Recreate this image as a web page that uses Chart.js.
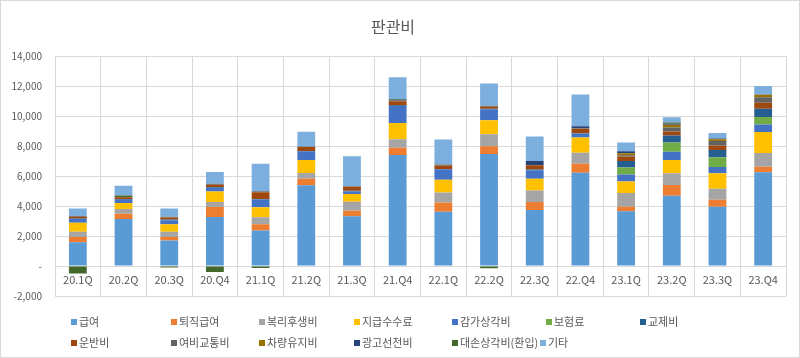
<!DOCTYPE html>
<html>
<head>
<meta charset="utf-8">
<script src="https://cdn.jsdelivr.net/npm/chart.js@4/dist/chart.umd.min.js"></script>
<style>
  html, body { margin: 0; padding: 0; background: #fff; }
  #wrap { position: relative; width: 800px; height: 358px; }
  #frame { position: absolute; left: 0; top: 0; width: 800px; height: 358px; box-sizing: border-box; border: 1px solid #d9d9d9; pointer-events: none; }
  canvas { display: block; }
  .lg { position: absolute; font-family: "Noto Sans CJK KR", "Noto Sans", sans-serif; font-size: 11px; color: #595959; white-space: nowrap; line-height: 14px; }
  .lg i { display: inline-block; width: 6px; height: 6px; margin-right: 2px; vertical-align: 1px; }
</style>
</head>
<body>
<div id="wrap">
  <canvas id="c" width="800" height="358"></canvas>
  <div id="legend"></div>
  <div id="frame"></div>
</div>
<script>
const categories = ['20.1Q','20.2Q','20.3Q','20.Q4','21.1Q','21.2Q','21.3Q','21.Q4','22.1Q','22.2Q','22.3Q','22.Q4','23.1Q','23.2Q','23.3Q','23.Q4'];
const seriesNames = ['급여','퇴직급여','복리후생비','지급수수료','감가상각비','보험료','교제비','운반비','여비교통비','차량유지비','광고선전비','대손상각비(환입)','기타'];
const seriesColors = ['#5B9BD5','#ED7D31','#A5A5A5','#FFC000','#4472C4','#70AD47','#255E91','#9E480E','#636363','#997300','#264478','#43682B','#7CAFDD'];

const salary      = [1590, 3140, 1700, 3270, 2365, 5395, 3315, 7405, 3625, 7470, 3735, 6230, 3650, 4690, 3955, 6255];
const retirement  = [ 350,  350,  240,  660,  420,  420,  375,  485,  620,  530,  530,  600,  310,  710,  465,  375];
const welfare     = [ 350,  310,  350,  350,  465,  400,  600,  575,  665,  795,  775,  730,  905,  795,  730,  905];
const fees        = [ 600,  400,  490,  685,  665,  860,  510, 1085,  840,  930,  775, 1015,  775,  885, 1040, 1415];
const depreciation= [ 240,  220,  265,  265,  530,  575,  175, 1130,  710,  730,  575,  265,  465,  550,  420,  485];
const insurance   = [   0,    0,    0,    0,    0,    0,    0,    0,    0,    0,    0,    0,  465,  620,  640,  510];
const entertain   = [  40,   60,   66,   44,   20,   22,   44,   44,   22,   44,   44,   22,  440,  465,  485,  555];
const freight     = [ 110,  110,  130,  155,  465,  265,  265,  265,  220,  130,  290,  290,  290,  265,  310,  400];
const travel      = [  60,    0,   44,   66,   66,   44,   44,   66,   66,   66,   22,   44,   90,  265,  290,  355];
const vehicle     = [   0,    0,    0,    0,    0,    0,    0,    0,    0,    0,    0,    0,  130,  175,  130,  175];
const advertising = [   0,    0,    0,    0,    0,    0,    0,   44,    0,    0,  265,  130,  130,   90,   44,   22];
const badDebt     = [-500,  110, -100, -400, -130,  -40,  -40,   44,  -40, -150,  -40,  -40,  -40,   66,  -40,  -40];
const others      = [ 490,  660,  550,  775, 1835,  975, 1990, 1460, 1680, 1480, 1635, 2120,  600,  355,  375,  555];

const yTicks = [-2000, 0, 2000, 4000, 6000, 8000, 10000, 12000, 14000];

const seriesValues = [salary, retirement, welfare, fees, depreciation, insurance, entertain, freight, travel, vehicle, advertising, badDebt, others];

const FONT = '"Noto Sans CJK KR", "Noto Sans", sans-serif';

const datasets = seriesNames.map((name, i) => ({
  label: name,
  data: seriesValues[i],
  backgroundColor: seriesColors[i],
  borderWidth: 0,
  barPercentage: 0.39,
  categoryPercentage: 1.0
}));

new Chart(document.getElementById('c'), {
  type: 'bar',
  data: { labels: categories, datasets },
  options: {
    responsive: false,
    animation: false,
    layout: { padding: { left: 0, right: 14, top: 0, bottom: 62 } },
    plugins: {
      legend: { display: false },
      tooltip: { enabled: false },
      title: {
        display: true,
        text: '판관비',
        color: '#595959',
        font: { family: FONT, size: 16, weight: 'normal' },
        padding: { top: 17, bottom: 20 }
      }
    },
    scales: {
      x: {
        stacked: true,
        position: { y: 0 },
        grid: { color: '#d9d9d9', offset: true, drawTicks: false },
        border: { display: false },
        ticks: { color: '#595959', font: { family: FONT, size: 11 }, padding: 7, maxRotation: 0 }
      },
      y: {
        stacked: true,
        min: -2000,
        max: 14000,
        afterFit: (s) => { s.width = 55; },
        afterBuildTicks: (s) => { s.ticks = yTicks.map(v => ({ value: v })); },
        grid: { color: '#d9d9d9', drawTicks: false },
        border: { display: false },
        ticks: {
          color: '#595959',
          font: { family: FONT, size: 10 },
          padding: 13,
          callback: (v) => v === 0 ? '-' : Number(v).toLocaleString('en-US')
        }
      }
    }
  }
});

// legend (HTML, generated from series arrays)
const legendX = [71, 171, 259, 354, 452, 546, 640, 71, 171, 259, 354, 452, 540];
const legendY = [314, 314, 314, 314, 314, 314, 314, 335, 335, 335, 335, 335, 335];
const lg = document.getElementById('legend');
seriesNames.forEach((name, i) => {
  const d = document.createElement('div');
  d.className = 'lg';
  d.style.left = legendX[i] + 'px';
  d.style.top = legendY[i] + 'px';
  const box = document.createElement('i');
  box.style.background = seriesColors[i];
  d.appendChild(box);
  d.appendChild(document.createTextNode(name));
  lg.appendChild(d);
});
</script>
</body>
</html>
